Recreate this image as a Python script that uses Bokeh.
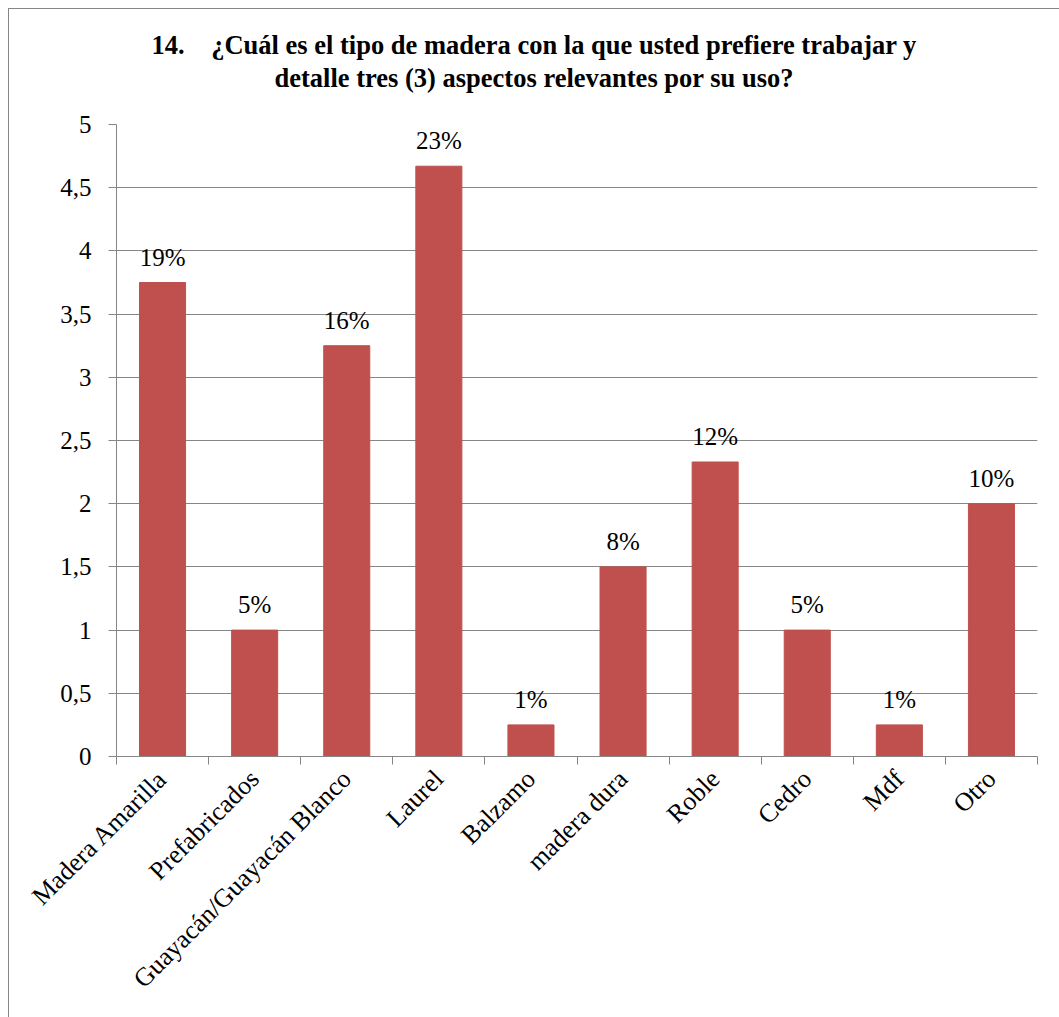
from math import pi
from bokeh.plotting import figure
from bokeh.models import Range1d, FixedTicker, ColumnDataSource, Div
from bokeh.layouts import column
from bokeh.core.properties import value
from bokeh.embed import file_html
from bokeh.resources import INLINE

categories = ["Madera Amarilla", "Prefabricados", "Guayacán/Guayacán Blanco", "Laurel",
              "Balzamo", "madera dura", "Roble", "Cedro", "Mdf", "Otro"]
values = [3.75, 1.0, 3.25, 4.67, 0.25, 1.5, 2.33, 1.0, 0.25, 2.0]
pct_labels = ["19%", "5%", "16%", "23%", "1%", "8%", "12%", "5%", "1%", "10%"]
y_ticks = [0, 0.5, 1, 1.5, 2, 2.5, 3, 3.5, 4, 4.5, 5]
y_tick_labels = ["0", "0,5", "1", "1,5", "2", "2,5", "3", "3,5", "4", "4,5", "5"]
title_line1 = "14.&nbsp;&nbsp;&nbsp;&nbsp;¿Cuál es el tipo de madera con la que usted prefiere trabajar y"
title_line2 = "detalle tres (3) aspectos relevantes por su uso?"

FONT = "Liberation Serif"
GRAY = "#868686"
BAR = "#C0504D"

xs = [i + 0.5 for i in range(len(categories))]
src = ColumnDataSource(dict(x=xs, top=values, lab=pct_labels))

title_div = Div(
    text=(f"<div style=\"font-family:'Liberation Serif',serif;font-weight:bold;font-size:26.5px;"
          f"line-height:33px;text-align:center;padding-top:20px;color:black;width:1050px;"
          f"box-sizing:border-box;\">"
          f"{title_line1}<br>{title_line2}</div>"),
    width=1050, height=100, styles={"margin": "0", "padding": "0"})

p = figure(width=1050, height=908, output_backend="svg", toolbar_location=None,
           x_range=Range1d(0, len(categories)), y_range=Range1d(0, 5),
           frame_width=921, frame_height=632,
           min_border_left=107, min_border_right=22, min_border_top=15, min_border_bottom=261)
p.title = None

p.vbar(x="x", top="top", width=0.5, bottom=0, color=BAR, source=src)
p.text(x="x", y="top", text="lab", source=src, text_align="center", text_baseline="bottom",
       y_offset=-12, text_font=value(FONT), text_font_size="25px", text_color="black")

p.outline_line_color = None
p.xgrid.grid_line_color = None
p.ygrid.grid_line_color = GRAY
p.ygrid.ticker = FixedTicker(ticks=y_ticks)

xa = p.xaxis[0]
xa.ticker = FixedTicker(ticks=xs, minor_ticks=list(range(len(categories) + 1)))
xa.major_label_overrides = {x: c for x, c in zip(xs, categories)}
xa.major_label_orientation = pi / 4
xa.major_tick_out = 0
xa.major_tick_in = 0
xa.minor_tick_out = 8
xa.minor_tick_in = 0
xa.minor_tick_line_color = GRAY
xa.axis_line_color = GRAY
xa.major_label_text_font = FONT
xa.major_label_text_font_size = "26px"
xa.major_label_text_color = "black"
xa.major_label_standoff = 10

ya = p.yaxis[0]
ya.ticker = FixedTicker(ticks=y_ticks)
ya.major_label_overrides = {float(t): l for t, l in zip(y_ticks, y_tick_labels)}
ya.major_tick_out = 8
ya.major_tick_in = 0
ya.minor_tick_line_color = None
ya.major_tick_line_color = GRAY
ya.axis_line_color = GRAY
ya.major_label_text_font = FONT
ya.major_label_text_font_size = "25px"
ya.major_label_text_color = "black"
ya.major_label_standoff = 17

layout = column(title_div, p, spacing=0,
                styles={"margin-left": "8px", "margin-top": "8px",
                        "border-left": f"1px solid {GRAY}", "border-top": f"1px solid {GRAY}"})

open("out.html", "w").write(file_html(layout, INLINE))
